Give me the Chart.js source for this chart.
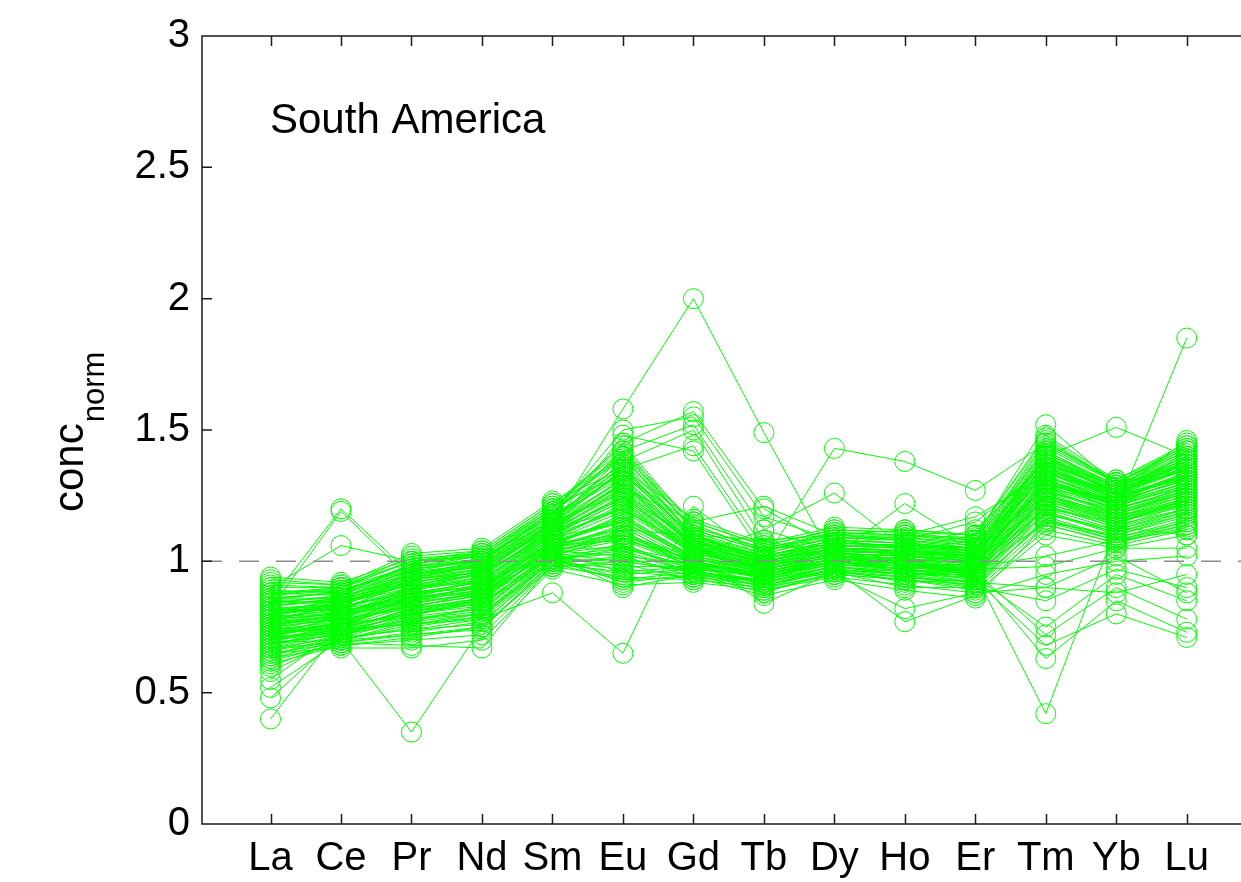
<!DOCTYPE html>
<html lang="en">
<head>
<meta charset="UTF-8">
<script src="https://cdn.jsdelivr.net/npm/chart.js"></script>
<title>South America REE</title>
<style>
  html, body { margin: 0; padding: 0; background: #fff; }
  #reeChart { display: block; }
</style>
</head>
<body>
<canvas id="reeChart" width="1241" height="882"></canvas>
<script>
// element labels along the x axis
const elements = ['La', 'Ce', 'Pr', 'Nd', 'Sm', 'Eu', 'Gd', 'Tb', 'Dy', 'Ho', 'Er', 'Tm', 'Yb', 'Lu'];
const yTicks = [0, 0.5, 1, 1.5, 2, 2.5, 3];
const panelTitle = 'South America';

// normalised concentrations, one row per sample
const outlierSamples = [
  [0.85, 1.20, 0.95, 0.98, 1.12, 1.30, 1.05, 0.97, 1.03, 1.02, 1.00, 1.30, 1.20, 1.28],
  [0.82, 1.19, 0.93, 0.96, 1.10, 1.25, 1.08, 0.98, 1.05, 1.04, 1.02, 1.28, 1.22, 1.30],
  [0.90, 1.06, 1.00, 1.02, 1.15, 1.58, 2.00, 1.49, 1.00, 0.98, 0.99, 1.35, 1.25, 1.32],
  [0.40, 0.75, 0.80, 0.84, 1.02, 1.10, 1.00, 0.95, 1.00, 0.97, 0.98, 1.20, 1.15, 1.22],
  [0.48, 0.72, 0.78, 0.80, 1.00, 1.05, 0.98, 0.94, 0.99, 0.96, 0.97, 1.18, 1.12, 1.20],
  [0.52, 0.70, 0.35, 0.75, 0.98, 1.00, 0.96, 0.92, 0.98, 0.95, 0.96, 1.15, 1.10, 1.18],
  [0.55, 0.74, 0.76, 0.78, 0.88, 0.65, 1.21, 1.00, 1.02, 1.00, 1.00, 1.22, 1.14, 1.24],
  [0.80, 0.82, 0.90, 0.92, 1.10, 1.20, 1.05, 1.00, 1.43, 1.38, 1.27, 1.45, 1.30, 1.35],
  [0.78, 0.80, 0.88, 0.90, 1.08, 1.15, 1.02, 1.12, 1.26, 1.05, 1.00, 1.30, 1.22, 1.28],
  [0.76, 0.79, 0.86, 0.88, 1.06, 1.12, 1.10, 1.08, 1.02, 1.22, 1.05, 1.25, 1.18, 1.25],
  [0.72, 0.76, 0.84, 0.88, 1.05, 1.10, 1.00, 0.95, 1.00, 0.98, 0.95, 0.42, 1.13, 1.10],
  [0.80, 0.82, 0.90, 0.95, 1.12, 1.30, 1.05, 0.97, 1.03, 1.00, 1.02, 1.35, 1.20, 1.85],
  [0.85, 0.86, 0.95, 0.98, 1.15, 1.40, 1.10, 1.00, 1.05, 1.03, 1.02, 1.40, 1.51, 1.40],
  [0.88, 0.90, 1.00, 1.02, 1.20, 1.45, 1.57, 1.20, 1.05, 1.02, 1.05, 1.40, 1.25, 1.38],
  [0.86, 0.88, 0.98, 1.00, 1.18, 1.50, 1.55, 1.17, 1.08, 1.05, 1.10, 1.42, 1.28, 1.40],
  [0.84, 0.87, 0.97, 1.00, 1.18, 1.42, 1.52, 1.12, 1.04, 1.06, 1.12, 1.38, 1.26, 1.36],
  [0.83, 0.86, 0.96, 0.99, 1.16, 1.38, 1.50, 1.08, 1.10, 1.08, 1.15, 1.36, 1.24, 1.42],
  [0.81, 0.85, 0.95, 0.98, 1.15, 1.35, 1.44, 1.05, 1.06, 1.10, 1.17, 1.33, 1.27, 1.46],
  [0.80, 0.84, 0.94, 0.97, 1.14, 1.48, 1.42, 1.02, 1.03, 1.04, 1.08, 1.31, 1.23, 1.34],
  [0.82, 0.84, 0.93, 0.96, 1.13, 1.28, 1.15, 1.21, 1.10, 1.12, 1.10, 1.34, 1.24, 1.33]
];

// samples with low Tm / Yb / Lu
const lowHreeSamples = [
  [0.70, 0.74, 0.82, 0.86, 1.02, 0.98, 0.98, 0.92, 0.98, 0.95, 0.95, 0.63, 0.85, 0.73],
  [0.68, 0.73, 0.80, 0.84, 1.00, 0.95, 0.97, 0.90, 0.97, 0.92, 0.93, 0.68, 0.80, 0.71],
  [0.72, 0.75, 0.83, 0.87, 1.03, 1.00, 1.00, 0.93, 1.00, 0.96, 0.96, 0.72, 0.90, 0.78],
  [0.74, 0.77, 0.85, 0.89, 1.04, 1.02, 0.99, 0.94, 0.99, 0.97, 0.94, 0.75, 0.95, 0.85],
  [0.69, 0.72, 0.81, 0.85, 1.01, 0.92, 0.95, 0.88, 0.96, 0.90, 0.90, 0.85, 0.97, 0.90],
  [0.71, 0.73, 0.82, 0.86, 1.02, 0.93, 0.96, 0.89, 0.95, 0.82, 0.88, 0.90, 0.88, 0.95],
  [0.73, 0.76, 0.84, 0.88, 1.03, 0.96, 0.98, 0.91, 0.97, 0.77, 0.87, 0.95, 1.00, 1.02],
  [0.75, 0.78, 0.86, 0.90, 1.05, 1.05, 1.00, 0.95, 1.01, 0.98, 0.97, 0.98, 1.05, 1.05],
  [0.76, 0.79, 0.87, 0.91, 1.06, 1.08, 1.01, 0.96, 1.02, 0.99, 0.98, 1.02, 1.08, 1.12],
  [0.78, 0.80, 0.88, 0.92, 1.07, 1.10, 1.02, 0.84, 0.96, 0.94, 0.92, 0.90, 1.02, 0.88]
];

// main band
const bulkSamples = [
  [0.62, 0.69, 0.73, 0.77, 0.99, 1.02, 0.94, 0.91, 0.96, 0.94, 0.91, 1.16, 1.08, 1.15],
  [0.64, 0.71, 0.78, 0.81, 1.03, 1.12, 0.97, 0.95, 1.01, 0.99, 0.95, 1.22, 1.15, 1.21],
  [0.66, 0.70, 0.75, 0.79, 1.00, 1.07, 0.95, 0.93, 0.99, 0.97, 0.93, 1.19, 1.11, 1.19],
  [0.67, 0.73, 0.80, 0.85, 1.06, 1.18, 1.01, 0.97, 1.03, 1.01, 0.98, 1.27, 1.19, 1.27],
  [0.69, 0.72, 0.77, 0.83, 1.04, 1.09, 0.98, 0.96, 1.02, 1.00, 0.96, 1.24, 1.17, 1.23],
  [0.70, 0.76, 0.84, 0.88, 1.08, 1.22, 1.03, 0.98, 1.04, 1.03, 1.00, 1.30, 1.21, 1.29],
  [0.71, 0.74, 0.79, 0.86, 1.05, 1.14, 1.00, 0.94, 1.00, 0.98, 0.97, 1.25, 1.16, 1.24],
  [0.72, 0.77, 0.86, 0.90, 1.10, 1.25, 1.05, 0.99, 1.05, 1.04, 1.01, 1.32, 1.23, 1.31],
  [0.73, 0.75, 0.81, 0.84, 1.03, 1.06, 0.97, 0.95, 1.01, 0.99, 0.96, 1.21, 1.14, 1.20],
  [0.74, 0.79, 0.88, 0.92, 1.11, 1.28, 1.06, 1.00, 1.06, 1.05, 1.02, 1.34, 1.24, 1.33],
  [0.75, 0.78, 0.83, 0.87, 1.07, 1.16, 1.02, 0.97, 1.02, 1.01, 0.99, 1.28, 1.18, 1.26],
  [0.76, 0.80, 0.90, 0.94, 1.13, 1.32, 1.07, 1.01, 1.07, 1.06, 1.03, 1.36, 1.26, 1.35],
  [0.77, 0.79, 0.85, 0.89, 1.08, 1.19, 1.03, 0.98, 1.03, 1.02, 1.00, 1.29, 1.20, 1.28],
  [0.78, 0.82, 0.92, 0.96, 1.14, 1.35, 1.09, 1.02, 1.08, 1.07, 1.04, 1.38, 1.27, 1.37],
  [0.79, 0.81, 0.87, 0.91, 1.09, 1.21, 1.04, 0.99, 1.04, 1.03, 1.01, 1.31, 1.21, 1.30],
  [0.80, 0.83, 0.94, 0.98, 1.16, 1.38, 1.10, 1.03, 1.09, 1.08, 1.05, 1.40, 1.28, 1.39],
  [0.81, 0.82, 0.89, 0.93, 1.11, 1.24, 1.05, 1.00, 1.05, 1.04, 1.02, 1.33, 1.22, 1.32],
  [0.83, 0.86, 0.97, 1.01, 1.18, 1.42, 1.12, 1.04, 1.10, 1.09, 1.06, 1.42, 1.29, 1.41],
  [0.84, 0.85, 0.91, 0.95, 1.12, 1.27, 1.06, 1.00, 1.06, 1.05, 1.03, 1.35, 1.24, 1.34],
  [0.86, 0.88, 0.99, 1.03, 1.20, 1.45, 1.13, 1.05, 1.11, 1.10, 1.07, 1.44, 1.30, 1.43],
  [0.88, 0.87, 0.93, 0.97, 1.13, 1.30, 1.07, 1.01, 1.07, 1.06, 1.04, 1.37, 1.25, 1.36],
  [0.90, 0.90, 1.02, 1.04, 1.22, 1.40, 1.15, 1.06, 1.12, 1.11, 1.08, 1.46, 1.30, 1.44],
  [0.92, 0.91, 1.03, 1.05, 1.23, 1.35, 1.16, 1.07, 1.13, 1.12, 1.10, 1.48, 1.31, 1.45],
  [0.94, 0.92, 1.01, 1.03, 1.21, 1.33, 1.14, 1.04, 1.11, 1.10, 1.09, 1.52, 1.29, 1.42],
  [0.63, 0.68, 0.70, 0.72, 0.98, 0.94, 0.93, 0.90, 0.95, 0.93, 0.89, 1.12, 1.06, 1.12],
  [0.65, 0.67, 0.67, 0.70, 0.97, 0.91, 0.92, 0.89, 0.94, 0.91, 0.88, 1.10, 1.05, 1.10],
  [0.67, 0.69, 0.68, 0.67, 0.99, 0.93, 0.94, 0.87, 0.93, 0.89, 0.86, 1.14, 1.07, 1.14],
  [0.60, 0.70, 0.72, 0.74, 1.00, 0.97, 0.95, 0.92, 0.97, 0.95, 0.90, 1.17, 1.09, 1.16],
  [0.58, 0.71, 0.74, 0.76, 1.01, 1.00, 0.96, 0.93, 0.98, 0.96, 0.92, 1.19, 1.10, 1.17],
  [0.77, 0.84, 0.91, 0.95, 1.15, 1.26, 1.08, 1.02, 1.08, 1.07, 1.05, 1.39, 1.26, 1.38],
  [0.79, 0.80, 0.84, 0.88, 1.06, 1.13, 0.99, 0.95, 1.00, 0.98, 0.96, 1.26, 1.17, 1.25],
  [0.82, 0.83, 0.88, 0.90, 1.07, 1.17, 1.00, 0.94, 1.00, 0.97, 0.95, 1.23, 1.16, 1.22],
  [0.85, 0.84, 0.90, 0.93, 1.10, 1.23, 1.02, 0.97, 1.02, 0.99, 0.97, 1.27, 1.19, 1.26],
  [0.70, 0.75, 0.86, 0.93, 1.12, 1.20, 1.04, 0.96, 1.01, 1.00, 0.98, 1.29, 1.23, 1.31],
  [0.73, 0.78, 0.89, 0.96, 1.14, 1.29, 1.06, 0.98, 1.03, 1.02, 1.01, 1.34, 1.25, 1.33],
  [0.76, 0.81, 0.93, 0.99, 1.17, 1.36, 1.08, 1.00, 1.05, 1.04, 1.03, 1.37, 1.27, 1.35],
  [0.68, 0.74, 0.82, 0.89, 1.09, 1.15, 1.01, 0.95, 1.00, 0.99, 0.97, 1.26, 1.20, 1.28],
  [0.80, 0.86, 0.95, 1.00, 1.19, 1.40, 1.09, 1.01, 1.06, 1.05, 1.04, 1.40, 1.28, 1.39],
  [0.87, 0.89, 0.96, 1.01, 1.17, 1.32, 1.08, 0.99, 1.04, 1.03, 1.02, 1.38, 1.26, 1.37],
  [0.91, 0.90, 0.98, 1.02, 1.19, 1.37, 1.10, 1.01, 1.06, 1.06, 1.05, 1.41, 1.28, 1.40],
  [0.64, 0.72, 0.79, 0.82, 1.02, 0.90, 0.95, 0.91, 0.97, 0.94, 0.92, 1.15, 1.08, 1.14],
  [0.69, 0.70, 0.76, 0.80, 1.01, 1.03, 0.96, 0.92, 0.98, 0.95, 0.94, 1.20, 1.12, 1.19],
  [0.61, 0.68, 0.71, 0.75, 0.98, 0.99, 0.93, 0.90, 0.95, 0.93, 0.90, 1.14, 1.07, 1.13],
  [0.63, 0.70, 0.77, 0.80, 1.02, 1.05, 0.97, 0.94, 1.00, 0.97, 0.94, 1.21, 1.13, 1.22],
  [0.66, 0.72, 0.81, 0.86, 1.05, 1.13, 0.99, 0.95, 1.01, 0.99, 0.96, 1.25, 1.18, 1.26],
  [0.68, 0.75, 0.85, 0.91, 1.10, 1.23, 1.04, 0.97, 1.02, 1.01, 0.99, 1.31, 1.22, 1.32],
  [0.70, 0.73, 0.78, 0.82, 1.03, 1.08, 0.98, 0.94, 1.00, 0.98, 0.95, 1.23, 1.15, 1.22],
  [0.72, 0.79, 0.90, 0.97, 1.15, 1.31, 1.07, 0.99, 1.04, 1.03, 1.02, 1.35, 1.26, 1.36],
  [0.74, 0.76, 0.80, 0.83, 1.04, 1.10, 0.99, 0.96, 1.01, 1.00, 0.97, 1.24, 1.16, 1.23],
  [0.75, 0.80, 0.89, 0.94, 1.12, 1.26, 1.05, 0.98, 1.03, 1.02, 1.00, 1.32, 1.24, 1.32],
  [0.77, 0.81, 0.86, 0.90, 1.09, 1.20, 1.03, 0.97, 1.03, 1.02, 0.99, 1.30, 1.21, 1.29],
  [0.78, 0.83, 0.93, 0.97, 1.15, 1.34, 1.08, 1.01, 1.07, 1.06, 1.04, 1.37, 1.27, 1.37],
  [0.80, 0.82, 0.86, 0.89, 1.07, 1.15, 1.01, 0.96, 1.01, 0.99, 0.97, 1.27, 1.18, 1.27],
  [0.81, 0.84, 0.92, 0.96, 1.13, 1.29, 1.06, 1.00, 1.05, 1.04, 1.02, 1.34, 1.23, 1.33],
  [0.83, 0.85, 0.94, 0.99, 1.16, 1.36, 1.09, 1.02, 1.08, 1.07, 1.05, 1.39, 1.27, 1.38],
  [0.84, 0.87, 0.99, 1.02, 1.20, 1.44, 1.11, 1.03, 1.09, 1.09, 1.07, 1.43, 1.30, 1.42],
  [0.86, 0.86, 0.92, 0.95, 1.11, 1.25, 1.04, 0.98, 1.03, 1.02, 1.00, 1.31, 1.22, 1.30],
  [0.87, 0.90, 1.00, 1.03, 1.21, 1.39, 1.13, 1.05, 1.10, 1.10, 1.08, 1.45, 1.31, 1.44],
  [0.89, 0.88, 0.95, 0.99, 1.14, 1.31, 1.06, 1.00, 1.05, 1.04, 1.03, 1.36, 1.25, 1.35],
  [0.93, 0.91, 1.00, 1.04, 1.22, 1.42, 1.15, 1.06, 1.12, 1.11, 1.10, 1.47, 1.30, 1.43],
  [0.65, 0.69, 0.72, 0.75, 0.99, 0.96, 0.94, 0.91, 0.96, 0.93, 0.91, 1.16, 1.09, 1.15],
  [0.67, 0.71, 0.74, 0.78, 1.00, 1.01, 0.96, 0.92, 0.97, 0.95, 0.92, 1.18, 1.11, 1.18],
  [0.71, 0.77, 0.83, 0.87, 1.06, 1.17, 1.02, 0.96, 1.01, 1.00, 0.98, 1.28, 1.20, 1.27],
  [0.73, 0.74, 0.76, 0.79, 1.01, 1.04, 0.96, 0.93, 0.98, 0.96, 0.93, 1.21, 1.13, 1.20],
  [0.76, 0.78, 0.82, 0.85, 1.05, 1.11, 1.00, 0.95, 1.00, 0.98, 0.96, 1.25, 1.17, 1.24],
  [0.79, 0.84, 0.95, 1.00, 1.18, 1.33, 1.10, 1.02, 1.07, 1.06, 1.05, 1.39, 1.28, 1.38],
  [0.82, 0.81, 0.85, 0.87, 1.04, 1.09, 0.99, 0.95, 1.00, 0.98, 0.96, 1.24, 1.15, 1.23],
  [0.85, 0.89, 0.98, 1.01, 1.19, 1.41, 1.12, 1.04, 1.09, 1.08, 1.06, 1.41, 1.29, 1.40],
  [0.88, 0.89, 0.97, 1.00, 1.16, 1.34, 1.09, 1.02, 1.07, 1.06, 1.05, 1.40, 1.27, 1.39],
  [0.69, 0.76, 0.87, 0.93, 1.11, 1.24, 1.04, 0.97, 1.02, 1.01, 0.99, 1.30, 1.23, 1.31]
];

const allSamples = outlierSamples.concat(lowHreeSamples, bulkSamples);

const lineGreen = '#00ff00';
const frameColor = '#1a1a1a';
const fontFamily = "'Liberation Sans', Arial, sans-serif";

// frame with inward ticks, dashed reference line, y title and panel text
const decorations = {
  id: 'decorations',
  afterDatasetsDraw(chart) {
    const ctx = chart.ctx;
    const area = chart.chartArea;
    const y1 = chart.scales.y.getPixelForValue(1);
    ctx.save();
    ctx.strokeStyle = '#8c8c8c';
    ctx.lineWidth = 1.5;
    ctx.setLineDash([20, 17]);
    ctx.beginPath();
    ctx.moveTo(area.left, y1);
    ctx.lineTo(area.right, y1);
    ctx.stroke();
    ctx.restore();
  },
  afterDraw(chart) {
    const ctx = chart.ctx;
    const area = chart.chartArea;
    const xs = chart.scales.x;
    const ys = chart.scales.y;
    const tick = 10;
    ctx.save();
    ctx.strokeStyle = frameColor;
    ctx.lineWidth = 1.5;
    ctx.beginPath();
    ctx.moveTo(area.right + 2, area.top);
    ctx.lineTo(area.left, area.top);
    ctx.lineTo(area.left, area.bottom);
    ctx.lineTo(area.right + 2, area.bottom);
    elements.forEach((el, i) => {
      const px = Math.round(xs.getPixelForValue(i + 1)) + 0.5;
      ctx.moveTo(px, area.bottom);
      ctx.lineTo(px, area.bottom - tick);
      ctx.moveTo(px, area.top);
      ctx.lineTo(px, area.top + tick);
    });
    yTicks.forEach(v => {
      const py = ys.getPixelForValue(v);
      ctx.moveTo(area.left, py);
      ctx.lineTo(area.left + tick, py);
    });
    ctx.stroke();

    // panel label
    ctx.fillStyle = '#000';
    ctx.font = '42px ' + fontFamily;
    ctx.textBaseline = 'alphabetic';
    ctx.textAlign = 'left';
    ctx.fillText(panelTitle, 270, 133);

    // y axis title: conc with subscript norm
    ctx.translate(83, 512);
    ctx.rotate(-Math.PI / 2);
    ctx.font = '42px ' + fontFamily;
    ctx.fillText('conc', 0, 0);
    const w = ctx.measureText('conc').width;
    ctx.font = '31px ' + fontFamily;
    ctx.fillText('norm', w + 1, 21);
    ctx.restore();
  }
};

const datasets = allSamples.map((row, k) => ({
  label: 'sample ' + (k + 1),
  data: row.map((v, i) => ({ x: i + 1, y: v })),
  borderColor: lineGreen,
  borderWidth: 1,
  backgroundColor: 'rgba(0,0,0,0)',
  pointBorderColor: lineGreen,
  pointBackgroundColor: 'rgba(0,0,0,0)',
  pointBorderWidth: 1,
  pointRadius: 10,
  pointHoverRadius: 10,
  tension: 0,
  fill: false
}));

new Chart(document.getElementById('reeChart'), {
  type: 'line',
  data: { datasets: datasets },
  options: {
    responsive: false,
    animation: false,
    events: [],
    layout: { autoPadding: false, padding: { top: 36, left: 0, right: 0, bottom: 0 } },
    plugins: { legend: { display: false }, tooltip: { enabled: false } },
    scales: {
      x: {
        type: 'linear',
        min: 0.028,
        max: 14.77,
        afterBuildTicks: s => { s.ticks = elements.map((e, i) => ({ value: i + 1 })); },
        afterFit: s => { s.height = 58; s.paddingLeft = 0; s.paddingRight = 0; },
        grid: { display: false, drawTicks: false },
        border: { display: false },
        ticks: {
          autoSkip: false,
          maxRotation: 0,
          padding: 11,
          color: '#000',
          font: { family: fontFamily, size: 40 },
          callback: v => elements[Math.round(v) - 1]
        }
      },
      y: {
        type: 'linear',
        min: 0,
        max: 3,
        afterBuildTicks: s => { s.ticks = yTicks.map(v => ({ value: v })); },
        afterFit: s => { s.width = 202; },
        grid: { display: false, drawTicks: false },
        border: { display: false },
        ticks: {
          padding: 12,
          color: '#000',
          font: { family: fontFamily, size: 40 },
          callback: v => String(v)
        }
      }
    }
  },
  plugins: [decorations]
});
</script>
</body>
</html>
